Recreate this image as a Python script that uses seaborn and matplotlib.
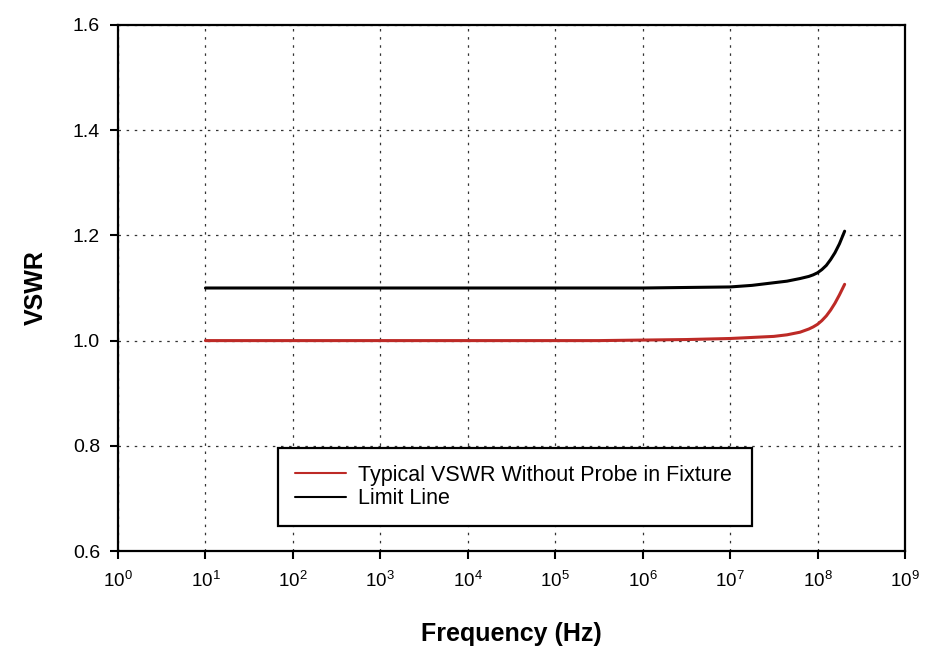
import numpy as np
import pandas as pd
import matplotlib
matplotlib.use("Agg")
import matplotlib.pyplot as plt
import seaborn as sns

freq_hz = [1e1, 1e2, 1e3, 1e4, 1e5, 3.16e5, 1e6, 3.16e6, 1e7, 1.78e7, 3.16e7, 4.47e7,
           6.31e7, 7.94e7, 8.91e7, 1e8, 1.12e8, 1.26e8, 1.41e8, 1.58e8, 1.78e8, 2.04e8]
vswr_typical = [1.000, 1.000, 1.000, 1.000, 1.000, 1.000, 1.001, 1.002, 1.004, 1.006, 1.008, 1.011,
                1.016, 1.022, 1.026, 1.031, 1.038, 1.047, 1.058, 1.071, 1.087, 1.107]
vswr_limit = [1.100, 1.100, 1.100, 1.100, 1.100, 1.100, 1.100, 1.101, 1.102, 1.105, 1.110, 1.113,
              1.118, 1.122, 1.125, 1.129, 1.135, 1.143, 1.154, 1.167, 1.184, 1.208]
series_names = ["Typical VSWR Without Probe in Fixture", "Limit Line"]
x_ticks = [10.0 ** k for k in range(10)]
x_tick_labels = [f"$10^{{{k}}}$" for k in range(10)]
y_ticks = [0.6, 0.8, 1.0, 1.2, 1.4, 1.6]

df = pd.concat([
    pd.DataFrame({"Frequency": freq_hz, "VSWR": vswr_typical, "Series": series_names[0]}),
    pd.DataFrame({"Frequency": freq_hz, "VSWR": vswr_limit, "Series": series_names[1]}),
])

sns.set_theme(style="white")
plt.rcParams["font.family"] = ["Liberation Sans", "DejaVu Sans"]
plt.rcParams["mathtext.fontset"] = "custom"
plt.rcParams["mathtext.rm"] = "Liberation Sans"
plt.rcParams["mathtext.it"] = "Liberation Sans"

fig = plt.figure(figsize=(9.39, 6.58), dpi=100)
ax = fig.add_axes([118 / 939, 1 - 551 / 658, (905 - 118) / 939, (551 - 25) / 658])

sns.lineplot(data=df, x="Frequency", y="VSWR", hue="Series",
             palette={series_names[0]: "#BD2A26", series_names[1]: "#000000"},
             linewidth=2.2, ax=ax, estimator=None, sort=True)

ax.set_xscale("log")
ax.set_xlim(1, 1e9)
ax.set_ylim(0.6, 1.6)
ax.set_xticks(x_ticks)
ax.set_xticklabels(x_tick_labels)
ax.xaxis.set_minor_locator(matplotlib.ticker.NullLocator())
ax.set_yticks(y_ticks)
ax.set_yticklabels([f"{v:.1f}" for v in y_ticks])
ax.tick_params(axis="both", which="major", direction="out", length=6, width=1.5,
               color="black", labelcolor="black", bottom=True, left=True)
ax.tick_params(axis="y", labelsize=14, pad=7)
ax.tick_params(axis="x", labelsize=13.5, pad=8)
for s in ax.spines.values():
    s.set_color("black")
    s.set_linewidth(1.6)

ax.grid(True, which="major", color="#333333", linestyle=(0, (2, 4.5)), linewidth=0.9)
ax.set_axisbelow(True)

ax.set_xlabel("Frequency (Hz)", fontsize=18, fontweight="bold", labelpad=23, color="black")
ax.set_ylabel("VSWR", fontsize=18, fontweight="bold", labelpad=18, color="black")

h, l = ax.get_legend_handles_labels()
leg = ax.legend(h, l, loc="upper left",
                bbox_to_anchor=(0.203, 0.0456, 0.602, 0.150), mode="expand",
                fontsize=15.5, frameon=True, fancybox=False, framealpha=1, handlelength=2.4,
                handletextpad=0.55, borderaxespad=0, borderpad=0.78, labelspacing=0.12)
leg.get_frame().set_edgecolor("black")
leg.get_frame().set_linewidth(1.6)
for line in leg.get_lines():
    line.set_linewidth(1.5)
for t in leg.get_texts():
    t.set_color("black")

fig.savefig("out.png", dpi=100)
